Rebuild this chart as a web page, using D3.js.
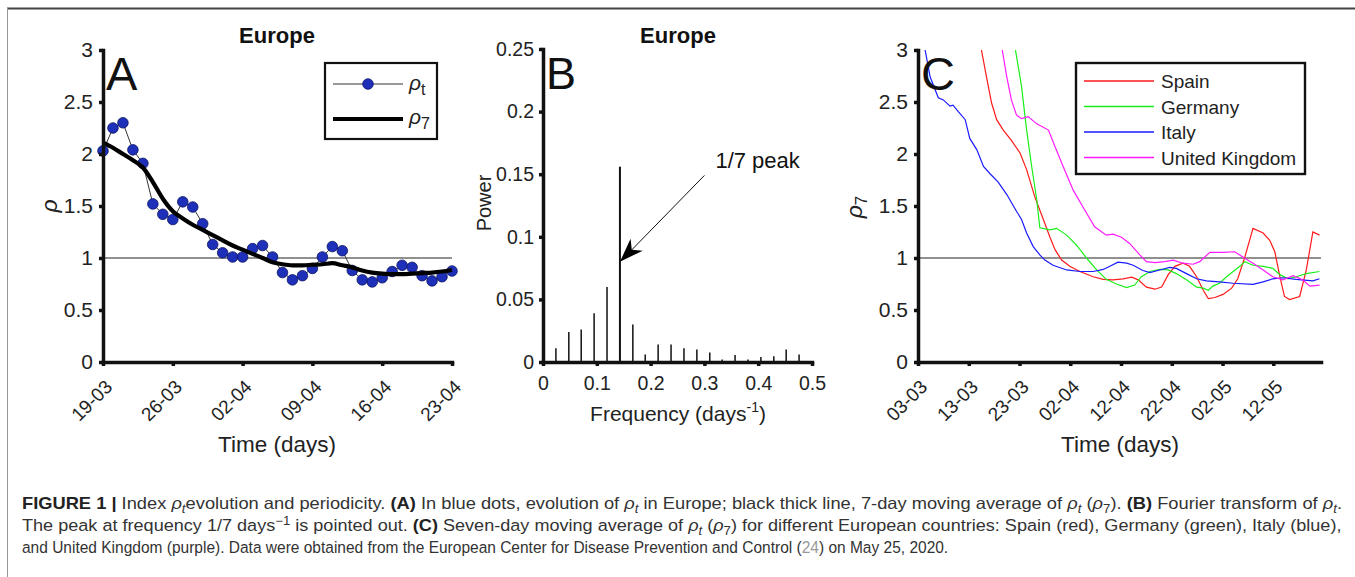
<!DOCTYPE html>
<html><head><meta charset="utf-8">
<script src="https://cdn.jsdelivr.net/npm/d3@7"></script>
<style>
body{margin:0;background:#fff}
svg{display:block}
text{font-family:"Liberation Sans",Arial,Helvetica,sans-serif}
</style>
</head><body>
<svg id="fig" width="1355" height="577"></svg>
<script>
// ---------------- DATA ----------------
// Panel A: Europe daily rho_t and 7-day average
const datesA = ["19-03","20-03","21-03","22-03","23-03","24-03","25-03","26-03","27-03","28-03","29-03","30-03","31-03","01-04","02-04","03-04","04-04","05-04","06-04","07-04","08-04","09-04","10-04","11-04","12-04","13-04","14-04","15-04","16-04","17-04","18-04","19-04","20-04","21-04","22-04","23-04"];
const rhoT = [2.03,2.25,2.30,2.04,1.91,1.52,1.42,1.37,1.54,1.49,1.33,1.13,1.05,1.01,1.01,1.09,1.12,1.01,0.86,0.79,0.83,0.90,1.01,1.11,1.07,0.88,0.79,0.77,0.81,0.87,0.93,0.91,0.83,0.78,0.82,0.875];
const rho7 = [2.11,2.06,2.00,1.94,1.87,1.73,1.57,1.45,1.38,1.32,1.27,1.22,1.17,1.12,1.08,1.04,1.00,0.96,0.94,0.93,0.93,0.935,0.94,0.95,0.93,0.91,0.88,0.86,0.85,0.845,0.845,0.85,0.855,0.86,0.87,0.885];
const ticksA = ["19-03","26-03","02-04","09-04","16-04","23-04"];
const yTicksA = [0,0.5,1,1.5,2,2.5,3];

// Panel B: Fourier power spectrum
const freqB = [0.024,0.048,0.071,0.095,0.119,0.143,0.167,0.190,0.214,0.238,0.262,0.286,0.310,0.333,0.357,0.381,0.405,0.429,0.452,0.476];
const powerB = [0.011,0.024,0.026,0.039,0.060,0.156,0.030,0.006,0.014,0.014,0.011,0.010,0.0075,0.002,0.0055,0.002,0.004,0.0045,0.010,0.006];
const xTicksB = [0,0.1,0.2,0.3,0.4,0.5];
const yTicksB = [0,0.05,0.1,0.15,0.2,0.25];
const peakFreq = 0.1429, arrowTip = 0.08, arrowTail = [0.300, 0.149];

// Panel C: countries, days since 03-03
const dayTicksC = [0,10,20,30,40,50,60,70];
const labelsC = ["03-03","13-03","23-03","02-04","12-04","22-04","02-05","12-05"];
const countries = ["Spain","Germany","Italy","United Kingdom"];
const colorsC = ["#ff1a1a","#1aef1a","#1a1aff","#ff1aff"];
const spainDay = [12.5,13.5,14.5,15.5,16.8,18.4,20.1,21.4,23.0,24.7,26.0,27.0,28.3,29.9,31.9,34.5,36.5,38.4,40.4,42.1,43.4,45.0,46.7,48.0,49.3,50.6,52.2,53.5,54.9,56.2,57.2,58.5,60.1,61.8,63.0,64.4,66.0,68.0,69.3,70.3,71.3,72.2,73.2,75.2,76.5,77.8,79.1];
const spainVal = [3.0,2.74,2.49,2.33,2.23,2.13,2.01,1.85,1.59,1.37,1.20,1.08,0.98,0.92,0.87,0.82,0.795,0.79,0.80,0.815,0.79,0.72,0.70,0.72,0.84,0.92,0.95,0.92,0.82,0.69,0.61,0.62,0.65,0.71,0.80,1.01,1.285,1.24,1.17,1.06,0.82,0.63,0.60,0.63,0.885,1.25,1.22];
const germanyDay = [19.2,20.4,21.4,22.4,23.4,24.0,26.0,27.3,29.3,31.2,33.2,35.2,37.1,39.1,41.1,42.7,44.0,45.7,47.6,49.3,50.9,52.9,54.9,56.2,57.2,58.1,59.4,60.8,62.1,63.4,64.4,66.0,68.0,69.9,71.3,72.9,74.5,76.5,79.1];
const germanyVal = [3.0,2.65,2.23,1.88,1.56,1.29,1.27,1.285,1.22,1.125,1.0,0.885,0.795,0.75,0.715,0.74,0.82,0.87,0.89,0.885,0.85,0.79,0.72,0.71,0.69,0.73,0.757,0.82,0.87,0.92,0.965,0.93,0.92,0.90,0.84,0.80,0.82,0.85,0.87];
const italyDay = [1.4,2.4,4.0,5.0,6.3,6.9,7.9,9.3,10.2,11.6,12.9,14.2,15.8,17.5,19.4,20.4,21.4,22.7,24.0,25.0,26.6,29.3,31.9,34.5,36.5,37.8,39.4,41.1,42.4,44.3,45.7,47.6,49.6,50.9,52.9,54.9,56.8,59.4,62.1,66.0,68.0,69.9,71.9,74.5,77.8,79.1];
const italyVal = [3.0,2.74,2.54,2.52,2.46,2.47,2.41,2.33,2.15,2.04,1.88,1.81,1.73,1.61,1.45,1.37,1.24,1.11,1.03,0.98,0.93,0.885,0.87,0.87,0.89,0.92,0.96,0.95,0.93,0.88,0.86,0.885,0.91,0.90,0.85,0.80,0.78,0.77,0.757,0.747,0.77,0.80,0.81,0.795,0.78,0.80];
const ukDay = [16.6,17.5,18.4,19.4,20.4,21.7,23.4,25.7,27.0,28.6,30.6,32.5,34.8,37.1,38.4,40.1,41.7,43.7,45.0,46.7,48.6,50.3,52.2,54.2,55.5,57.5,60.1,62.4,64.0,66.0,68.0,69.9,71.9,73.9,75.8,77.2,79.1];
const ukVal = [3.0,2.74,2.52,2.375,2.34,2.36,2.29,2.23,2.07,1.88,1.65,1.49,1.30,1.22,1.23,1.20,1.14,1.03,0.965,0.955,0.965,0.98,0.95,0.94,0.965,1.055,1.055,1.06,1.01,0.95,0.885,0.82,0.79,0.83,0.79,0.73,0.74];
const seriesDays = [spainDay, germanyDay, italyDay, ukDay];
const seriesVals = [spainVal, germanyVal, italyVal, ukVal];

// ---------------- DRAW ----------------
const svg = d3.select("#fig");
svg.append("rect").attr("width",1355).attr("height",577).attr("fill","#fff");
// figure frame
svg.append("line").attr("x1",7).attr("x2",1355).attr("y1",8.5).attr("y2",8.5).attr("stroke","#444").attr("stroke-width",2);
svg.append("line").attr("x1",7.5).attr("x2",7.5).attr("y1",8).attr("y2",577).attr("stroke","#999").attr("stroke-width",1);

const FONT = '"Liberation Sans",Arial,sans-serif';
const TXT = "#222";
function styleAxis(g, fs){
  g.attr("font-family", FONT).attr("font-size", fs || 20);
  g.select(".domain").attr("stroke","#111").attr("stroke-width",3.5).attr("stroke-linecap","square");
  g.selectAll(".tick line").attr("stroke","#111").attr("stroke-width",3.5);
  g.selectAll(".tick text").attr("fill",TXT);
}
function rotLabels(g){
  g.selectAll(".tick text").attr("text-anchor","end").attr("x",0).attr("y",0).attr("dy",0)
    .attr("transform","translate(10,26) rotate(-45)");
}

// ===== Panel A =====
const xA = d3.scaleLinear().domain([0, datesA.length-1]).range([103, 452]);
const yA = d3.scaleLinear().domain([0,3]).range([362, 50]);
svg.append("line").attr("x1",xA(0)).attr("x2",xA(datesA.length-1)).attr("y1",yA(1)).attr("y2",yA(1)).attr("stroke","#222").attr("stroke-width",1);
svg.append("path").datum(rhoT).attr("fill","none").attr("stroke","#333").attr("stroke-width",1)
  .attr("d", d3.line().x((d,i)=>xA(i)).y(d=>yA(d)));
svg.append("g").selectAll("circle").data(rhoT).join("circle")
  .attr("cx",(d,i)=>xA(i)).attr("cy",d=>yA(d)).attr("r",5.3)
  .attr("fill","#1e2fba").attr("stroke","#0d1560").attr("stroke-width",0.8);
svg.append("path").datum(rho7).attr("fill","none").attr("stroke","#000").attr("stroke-width",4.2).attr("stroke-linejoin","round")
  .attr("d", d3.line().curve(d3.curveMonotoneX).x((d,i)=>xA(i)).y(d=>yA(d)));
const gAx = svg.append("g").attr("transform","translate(0,362)")
  .call(d3.axisBottom(xA).tickValues(ticksA.map(t=>datesA.indexOf(t))).tickFormat(i=>datesA[i]).tickSize(4).tickSizeOuter(0).tickPadding(4));
styleAxis(gAx,19); rotLabels(gAx);
const gAy = svg.append("g").attr("transform","translate(103,0)")
  .call(d3.axisLeft(yA).tickValues(yTicksA).tickFormat(d3.format("~g")).tickSize(4).tickSizeOuter(0).tickPadding(6));
styleAxis(gAy,21);
svg.append("text").attr("x",277).attr("y",43).attr("text-anchor","middle").attr("font-weight","bold").attr("font-size",22).attr("fill","#111").text("Europe");
svg.append("text").attr("x",106).attr("y",90).attr("font-size",47).attr("fill","#111").text("A");
svg.append("text").attr("x",277).attr("y",452).attr("text-anchor","middle").attr("font-size",22.5).attr("fill",TXT).text("Time (days)");
svg.append("text").attr("transform","translate(57,206) rotate(-90)").attr("text-anchor","middle").attr("font-size",23).attr("font-style","italic").attr("fill",TXT).text("ρ");
// legend A
const lgA = svg.append("g");
lgA.append("rect").attr("x",325).attr("y",63).attr("width",112).attr("height",76).attr("fill","#fff").attr("stroke","#111").attr("stroke-width",2.2);
lgA.append("line").attr("x1",333).attr("x2",403).attr("y1",84).attr("y2",84).attr("stroke","#333").attr("stroke-width",1);
lgA.append("circle").attr("cx",368).attr("cy",84).attr("r",5.3).attr("fill","#1e2fba").attr("stroke","#0d1560").attr("stroke-width",0.8);
lgA.append("line").attr("x1",333).attr("x2",403).attr("y1",119).attr("y2",119).attr("stroke","#000").attr("stroke-width",4.2);
const tA1 = lgA.append("text").attr("x",409).attr("y",90).attr("font-size",21).attr("fill",TXT);
tA1.append("tspan").attr("font-style","italic").text("ρ"); tA1.append("tspan").attr("dy",5).attr("font-size",16).text("t");
const tA2 = lgA.append("text").attr("x",409).attr("y",124).attr("font-size",21).attr("fill",TXT);
tA2.append("tspan").attr("font-style","italic").text("ρ"); tA2.append("tspan").attr("dy",5).attr("font-size",16).text("7");

// ===== Panel B =====
const xB = d3.scaleLinear().domain([0,0.5]).range([543, 812]);
const yB = d3.scaleLinear().domain([0,0.25]).range([362, 49]);
svg.append("g").selectAll("line").data(freqB).join("line")
  .attr("x1",d=>xB(d)).attr("x2",d=>xB(d)).attr("y1",yB(0)).attr("y2",(d,i)=>yB(powerB[i]))
  .attr("stroke","#111").attr("stroke-width",(d,i)=>i===5?2:1.5);
const gBx = svg.append("g").attr("transform","translate(0,362)")
  .call(d3.axisBottom(xB).tickValues(xTicksB).tickFormat(d3.format("~g")).tickSize(4).tickSizeOuter(0).tickPadding(10));
styleAxis(gBx,19.5);
const gBy = svg.append("g").attr("transform","translate(543,0)")
  .call(d3.axisLeft(yB).tickValues(yTicksB).tickFormat(d3.format("~g")).tickSize(4).tickSizeOuter(0).tickPadding(5));
styleAxis(gBy,19.5);
svg.append("text").attr("x",678).attr("y",43).attr("text-anchor","middle").attr("font-weight","bold").attr("font-size",22).attr("fill","#111").text("Europe");
svg.append("text").attr("x",546).attr("y",89).attr("font-size",45).attr("fill","#111").text("B");
const fl = svg.append("text").attr("x",678).attr("y",421).attr("text-anchor","middle").attr("font-size",21).attr("fill",TXT);
fl.append("tspan").text("Frequency (days");
fl.append("tspan").attr("dy",-9).attr("font-size",14).text("-1");
fl.append("tspan").attr("dy",9).text(")");
svg.append("text").attr("transform","translate(491,203) rotate(-90)").attr("text-anchor","middle").attr("font-size",20).attr("fill",TXT).text("Power");
// arrow annotation
const tip = [xB(peakFreq), yB(arrowTip)], tail = [xB(arrowTail[0]), yB(arrowTail[1])];
svg.append("line").attr("x1",tail[0]).attr("y1",tail[1]).attr("x2",tip[0]+8).attr("y2",tip[1]-8).attr("stroke","#111").attr("stroke-width",1);
const ang = Math.atan2(tail[1]-tip[1], tail[0]-tip[0]) * 180/Math.PI;
svg.append("path").attr("d","M0,0 L24,-8.5 L17,0 L24,8.5 Z").attr("fill","#000")
  .attr("transform",`translate(${tip[0]},${tip[1]}) rotate(${ang})`);
svg.append("text").attr("x",tail[0]+11).attr("y",tail[1]-7).attr("font-size",22).attr("fill","#111").text("1/7 peak");

// ===== Panel C =====
const xC = d3.scaleLinear().domain([0,79.4]).range([918, 1321]);
const yC = d3.scaleLinear().domain([0,3]).range([362, 50]);
svg.append("defs").append("clipPath").attr("id","clipC").append("rect").attr("x",918).attr("y",50).attr("width",403).attr("height",312);
svg.append("line").attr("x1",xC(0)).attr("x2",xC(79.4)).attr("y1",yC(1)).attr("y2",yC(1)).attr("stroke","#222").attr("stroke-width",1);
const gLines = svg.append("g").attr("clip-path","url(#clipC)");
countries.forEach((c,k)=>{
  const pts = seriesDays[k].map((d,i)=>[d, seriesVals[k][i]]);
  gLines.append("path").datum(pts).attr("fill","none").attr("stroke",colorsC[k]).attr("stroke-width",1.2)
    .attr("d", d3.line().x(d=>xC(d[0])).y(d=>yC(d[1])));
});
const gCx = svg.append("g").attr("transform","translate(0,362)")
  .call(d3.axisBottom(xC).tickValues(dayTicksC).tickFormat((d,i)=>labelsC[i]).tickSize(4).tickSizeOuter(0).tickPadding(4));
styleAxis(gCx,19); rotLabels(gCx);
const gCy = svg.append("g").attr("transform","translate(918,0)")
  .call(d3.axisLeft(yC).tickValues(yTicksA).tickFormat(d3.format("~g")).tickSize(4).tickSizeOuter(0).tickPadding(6));
styleAxis(gCy,21);
svg.append("text").attr("x",921).attr("y",90).attr("font-size",47).attr("fill","#111").text("C");
svg.append("text").attr("x",1120).attr("y",452).attr("text-anchor","middle").attr("font-size",22.5).attr("fill",TXT).text("Time (days)");
const yl = svg.append("text").attr("transform","translate(862,207) rotate(-90)").attr("text-anchor","middle").attr("font-size",23).attr("fill",TXT);
yl.append("tspan").attr("font-style","italic").text("ρ"); yl.append("tspan").attr("dy",5).attr("font-size",17).text("7");
// legend C
const lgC = svg.append("g");
lgC.append("rect").attr("x",1076).attr("y",63).attr("width",229).attr("height",111).attr("fill","#fff").attr("stroke","#111").attr("stroke-width",2.4);
countries.forEach((c,k)=>{
  const y = 81 + k*25.5;
  lgC.append("line").attr("x1",1084).attr("x2",1154).attr("y1",y).attr("y2",y).attr("stroke",colorsC[k]).attr("stroke-width",1.3);
  lgC.append("text").attr("x",1161).attr("y",y+7).attr("font-size",19).attr("fill",TXT).text(c);
});

// ===== Caption =====
const capLines = [
  [["FIGURE 1 | ","b"],["Index ",""],["ρ","i"],["t","si"],["evolution and periodicity. ",""],["(A)","b"],[" In blue dots, evolution of ",""],["ρ","i"],["t","si"],[" in Europe; black thick line, 7-day moving average of ",""],["ρ","i"],["t","si"],[" (",""],["ρ","i"],["7","s"],["). ",""],["(B)","b"],[" Fourier transform of ",""],["ρ","i"],["t","si"],[".",""]],
  [["The peak at frequency 1/7 days",""],["−1","sup"],[" is pointed out. ",""],["(C)","b"],[" Seven-day moving average of ",""],["ρ","i"],["t","si"],[" (",""],["ρ","i"],["7","s"],[") for different European countries: Spain (red), Germany (green), Italy (blue),",""]],
  [["and United Kingdom (purple). Data were obtained from the European Center for Disease Prevention and Control (",""],["24","g"],[") on May 25, 2020.",""]]
];
const capY = [509, 531, 553], capLen = [1321, 1321, 927];
capLines.forEach((segs, li)=>{
  const t = svg.append("text").attr("x",0).attr("y",0).attr("font-size",16.5).attr("fill","#333")
    .attr("font-family",'"Liberation Sans Narrow","Liberation Sans",Arial,sans-serif');
  let shift = 0;
  segs.forEach(([s,st])=>{
    const sp = t.append("tspan").text(s);
    let target = 0;
    if (st==="b") sp.attr("font-weight","bold").attr("fill","#222");
    if (st==="i") sp.attr("font-style","italic");
    if (st==="si"||st==="s") { target = 4; sp.attr("font-size",12); if(st==="si") sp.attr("font-style","italic"); }
    if (st==="sup") { target = -6; sp.attr("font-size",12); }
    if (st==="g") sp.attr("fill","#999");
    if (target!==shift) { sp.attr("dy", target-shift); shift = target; }
  });
  const w = t.node().getComputedTextLength();
  const sx = capLen[li] / w;
  t.attr("transform", `translate(22,${capY[li]}) scale(${sx},1)`);
});
</script>
</body></html>
